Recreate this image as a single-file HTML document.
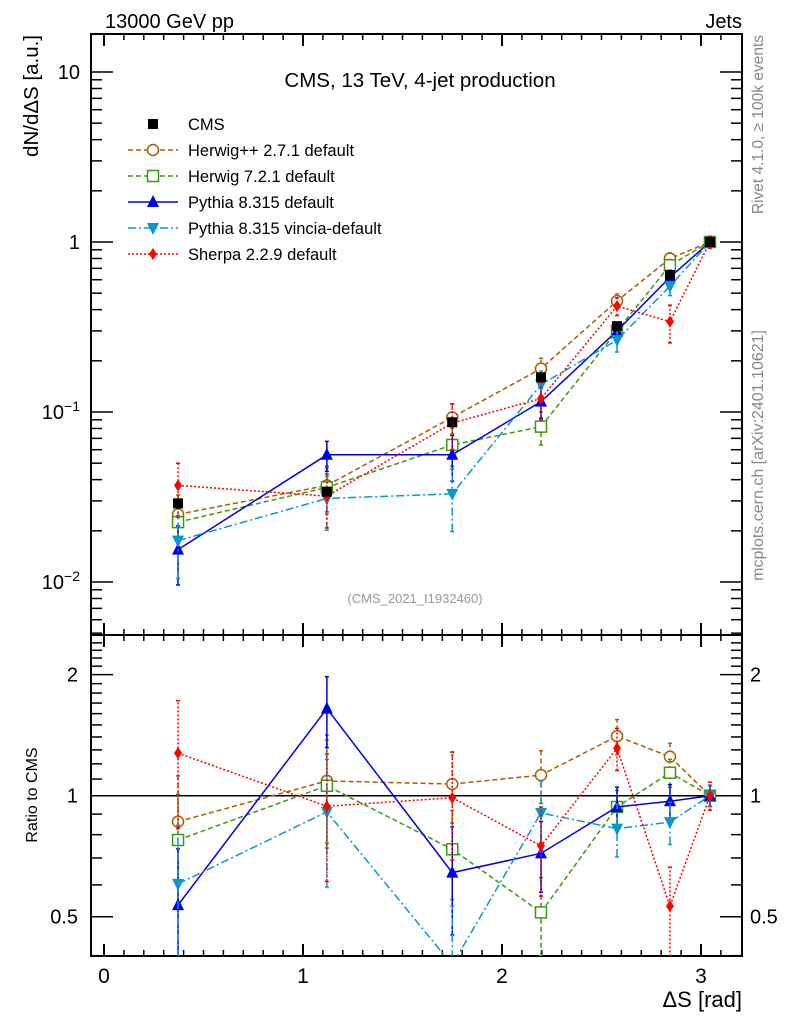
<!DOCTYPE html>
<html><head><meta charset="utf-8"><style>
body{margin:0;background:#fff}svg{display:block;font-family:"Liberation Sans",sans-serif}
</style></head><body>
<svg id="c" width="786" height="1024" viewBox="0 0 786 1024"></svg>
<script>
const xs=[0.372,1.12,1.75,2.196,2.578,2.844,3.045];
const cmsVals=[0.029,0.034,0.087,0.16,0.32,0.64,1.0];
const cmsErr=[0.06,0.05,0.05,0.05,0.05,0.05,0.05];
const herwigppVals=[0.025,0.037,0.093,0.18,0.45,0.80,1.0];
const herwigppErr=[0.3,0.3,0.2,0.15,0.1,0.08,0.06];
const herwig7Vals=[0.0225,0.036,0.064,0.082,0.30,0.73,1.0];
const herwig7Err=[0.3,0.3,0.25,0.22,0.1,0.08,0.06];
const pythiaVals=[0.0155,0.056,0.056,0.115,0.30,0.62,1.0];
const pythiaErr=[0.38,0.2,0.3,0.2,0.12,0.1,0.06];
const vinciaVals=[0.0175,0.031,0.033,0.145,0.265,0.55,1.0];
const vinciaErr=[0.4,0.35,0.4,0.2,0.15,0.12,0.06];
const sherpaVals=[0.037,0.032,0.086,0.12,0.42,0.34,1.0];
const sherpaErr=[0.35,0.35,0.3,0.25,0.12,0.25,0.08];
const yTicks=[0.01,0.1,1,10];
const rTicks=[0.5,1,2];
const xTicks=[0,1,2,3];

const S=document.getElementById('c'),NS='http://www.w3.org/2000/svg';
function el(t,a,p){const e=document.createElementNS(NS,t);for(const k in a)e.setAttribute(k,a[k]);(p||S).appendChild(e);return e;}
const L=91,R=742,T=34,M=635,B=956;
const X=v=>104+v*199;
const Y=v=>242-Math.log10(v)*170;
const RY=v=>795.7-Math.log10(v)*402;
let f=el('rect',{x:L,y:T,width:R-L,height:M-T,fill:'none',stroke:'#000','stroke-width':2});

f=el('rect',{x:L,y:M,width:R-L,height:B-M,fill:'none',stroke:'#000','stroke-width':2});

for(let v=-0.1;v<=3.2;v+=0.1){const x=X(v);if(x<L||x>R)continue;const maj=Math.abs(v-Math.round(v))<0.01;const l=maj?12:6;
 for(const [y,d] of [[T,1],[M,-1],[M,1],[B,-1]]) el('line',{x1:x,x2:x,y1:y,y2:y+d*l,stroke:'#000','stroke-width':maj?2:1.5});}
xTicks.forEach(v=>{const t=el('text',{x:X(v),y:983,'font-size':21,'text-anchor':'middle'});t.textContent=v;
 });
for(let d=-3;d<=1;d++)for(let m=1;m<10;m++){const v=m*Math.pow(10,d);const y=Y(v);if(y<T||y>M)continue;const l=m==1?22:11;
 el('line',{x1:L,x2:L+l,y1:y,y2:y,stroke:'#000','stroke-width':1.5});el('line',{x1:R,x2:R-l,y1:y,y2:y,stroke:'#000','stroke-width':1.5});}
const ylab=['10<tspan dy="-8" font-size="14">−2</tspan>','10<tspan dy="-8" font-size="14">−1</tspan>','1','10'];
yTicks.forEach((v,i)=>{const t=el('text',{x:80,y:Y(v)+7,'font-size':20,'text-anchor':'end'});t.innerHTML=ylab[i];
 });
for(let v=0.4;v<=2.5;v+=0.1){const y=RY(v);if(y<M||y>B)continue;const maj=rTicks.some(r=>Math.abs(r-v)<0.01);const l=maj?22:11;
 el('line',{x1:L,x2:L+l,y1:y,y2:y,stroke:'#000','stroke-width':1.5});el('line',{x1:R,x2:R-l,y1:y,y2:y,stroke:'#000','stroke-width':1.5});}
rTicks.forEach(v=>{for(const [x,a] of [[78,'end'],[750,'start']]){const t=el('text',{x:x,y:RY(v)+7,'font-size':20,'text-anchor':a});t.textContent=v;
 }});
let ln=el('line',{x1:L,x2:R,y1:RY(1),y2:RY(1),stroke:'#000','stroke-width':1.5});

const defs=el('defs',{});
const c1=el('clipPath',{id:'cm'},defs);el('rect',{x:L,y:T,width:R-L,height:M-T},c1);
const c2=el('clipPath',{id:'cr'},defs);el('rect',{x:L,y:M,width:R-L,height:B-M},c2);
const series=[
 {n:'herwigpp',v:herwigppVals,e:herwigppErr,c:'#b35900',d:'5,3',m:'circle',lab:'Herwig++ 2.7.1 default'},
 {n:'herwig7',v:herwig7Vals,e:herwig7Err,c:'#3d9a0f',d:'5,3',m:'square',lab:'Herwig 7.2.1 default'},
 {n:'pythia',v:pythiaVals,e:pythiaErr,c:'#0000ee',d:'',m:'tri',lab:'Pythia 8.315 default'},
 {n:'vincia',v:vinciaVals,e:vinciaErr,c:'#0899c8',d:'8,3,2,3',m:'tridown',lab:'Pythia 8.315 vincia-default'},
 {n:'sherpa',v:sherpaVals,e:sherpaErr,c:'#ff0000',d:'2,2',m:'diamond',lab:'Sherpa 2.2.9 default'}];
function marker(g,m,x,y,c){
 if(m=='circle')return el('circle',{cx:x,cy:y,r:5.5,fill:'#fff',stroke:c,'stroke-width':1.5},g);
 if(m=='square')return el('rect',{x:x-5.5,y:y-5.5,width:11,height:11,fill:'#fff',stroke:c,'stroke-width':1.5},g);
 if(m=='tri')return el('path',{d:`M${x} ${y-7}L${x+6} ${y+5}L${x-6} ${y+5}Z`,fill:c},g);
 if(m=='tridown')return el('path',{d:`M${x} ${y+7}L${x+6} ${y-5}L${x-6} ${y-5}Z`,fill:c},g);
 if(m=='diamond')return el('path',{d:`M${x} ${y-6}L${x+4} ${y}L${x} ${y+6}L${x-4} ${y}Z`,fill:c},g);
 return el('rect',{x:x-5,y:y-5,width:10,height:10,fill:c},g);
}
function draw(s,fy,clip,vals,errs,name){
 const g=el('g',{'clip-path':`url(#${clip})`});
 
 vals.forEach((v,i)=>{const x=X(xs[i]);const lo=v*(1-errs[i]),hi=v*(1+errs[i]);
  el('line',{x1:x,x2:x,y1:fy(Math.max(lo,1e-4)),y2:fy(hi),stroke:s.c,'stroke-width':1.5,'stroke-dasharray':s.d},g);
  el('line',{x1:x-2,x2:x+2,y1:fy(hi),y2:fy(hi),stroke:s.c,'stroke-width':1.5},g);
  el('line',{x1:x-2,x2:x+2,y1:fy(Math.max(lo,1e-4)),y2:fy(Math.max(lo,1e-4)),stroke:s.c,'stroke-width':1.5},g);});
 if(s.d!==null) el('polyline',{points:vals.map((v,i)=>X(xs[i])+','+fy(v)).join(' '),fill:'none',stroke:s.c,'stroke-width':1.5,'stroke-dasharray':s.d},g);
 vals.forEach((v,i)=>{const mk=marker(g,s.m,X(xs[i]),fy(v),s.c);});
}
series.forEach(s=>{draw(s,Y,'cm',s.v,s.e,s.n+'-series');
 draw(s,RY,'cr',s.v.map((v,i)=>v/cmsVals[i]),s.e,s.n+'-ratio');});
draw({c:'#000',d:null,m:'sq'},Y,'cm',cmsVals,cmsErr,'cms-data');
const lg=el('g',{});
const items=[{c:'#000',d:null,m:'sq',lab:'CMS'}].concat(series);
items.forEach((s,i)=>{const y=124+i*26;const g=el('g',{},lg);
 
 if(s.d!==null)el('line',{x1:128,x2:178,y1:y,y2:y,stroke:s.c,'stroke-width':1.5,'stroke-dasharray':s.d},g);
 marker(g,s.m,153,y,s.c);
 const t=el('text',{x:188,y:y+6,'font-size':16.5},g);t.textContent=s.lab;});
function txt(x,y,s,str,a,extra,name){const t=el('text',Object.assign({x:x,y:y,'font-size':s,'text-anchor':a||'start'},extra||{}));t.textContent=str;
 return t;}
txt(105,28,20,'13000 GeV pp','start',{},'header-process');
txt(742,28,20,'Jets','end',{},'header-observable');
txt(420,87,20.5,'CMS, 13 TeV, 4-jet production','middle',{},'plot-title');
txt(415,603,13,'(CMS_2021_I1932460)','middle',{fill:'#999'},'analysis-id');
txt(742,1007,22,'ΔS [rad]','end',{},'x-axis-title');
txt(0,0,20.5,'dN/dΔS [a.u.]','end',{transform:'translate(38,35) rotate(-90)'},'y-axis-title');
txt(0,0,16,'Ratio to CMS','middle',{transform:'translate(37,795) rotate(-90)'},'ratio-axis-title');
txt(0,0,15.5,'Rivet 4.1.0, ≥ 100k events','end',{transform:'translate(763,35) rotate(-90)',fill:'#888'},'rivet-label');
txt(0,0,16,'mcplots.cern.ch [arXiv:2401.10621]','end',{transform:'translate(763,330) rotate(-90)',fill:'#888'},'mcplots-label');
</script>
</body></html>
